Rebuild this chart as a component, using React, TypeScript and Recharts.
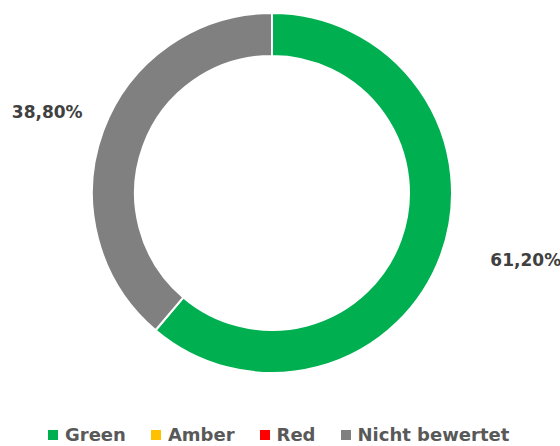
import React from 'react';
import { PieChart, Pie, Cell, Legend } from 'recharts';

const categories = ['Green', 'Amber', 'Red', 'Nicht bewertet'];
const shares = [61.2, 0, 0, 38.8];
const colors = ['#00B050', '#FFC000', '#FF0000', '#808080'];

const data = categories.map((name, i) => ({ name, value: shares[i], color: colors[i] }));

const RADIAN = Math.PI / 180;
const FONT = '"DejaVu Sans", "Noto Sans", sans-serif';

// Excel-style outside labels, nudged away from the ring
const renderLabel = ({ cx, cy, midAngle, outerRadius, value }: any) => {
  if (!value) return null;
  const r = outerRadius + 10;
  const x = cx + r * Math.cos(-midAngle * RADIAN);
  const y = cy + r * Math.sin(-midAngle * RADIAN);
  const right = x > cx;
  return (
    <text
      x={right ? x + 40 : x - 11}
      y={right ? y + 2 : y - 16}
      textAnchor={right ? 'start' : 'end'}
      dominantBaseline="central"
      fill="#404040"
      fontSize={17}
      fontWeight={700}
      fontFamily={FONT}
    >
      {value.toFixed(2).replace('.', ',') + '%'}
    </text>
  );
};

const LegendContent = () => (
  <div style={{ display: 'flex', alignItems: 'center', gap: 25, paddingLeft: 48, fontFamily: FONT, fontSize: 18, fontWeight: 700, color: '#595959', lineHeight: '21px' }}>
    {data.map((d) => (
      <div key={d.name} style={{ display: 'flex', alignItems: 'center', gap: 7 }}>
        <div style={{ width: 10, height: 10, background: d.color }}></div>
        <span>{d.name}</span>
      </div>
    ))}
  </div>
);

export default function App() {
  return (
    <div style={{ position: 'absolute', left: 0, top: 0, width: 560, height: 446, background: '#fff' }}>
      <PieChart width={560} height={446} margin={{ top: 0, right: 0, bottom: 0, left: 0 }}>
        <Pie
          data={data}
          dataKey="value"
          cx={272}
          cy={193}
          innerRadius={137}
          outerRadius={180}
          startAngle={90}
          endAngle={-270}
          stroke="#ffffff"
          strokeWidth={2}
          label={renderLabel}
          labelLine={false}
          isAnimationActive={false}
        >
          {data.map((d, i) => (
            <Cell key={`cell-${i}`} fill={d.color} />
          ))}
        </Pie>
        <Legend
          content={<LegendContent />}
          verticalAlign="bottom"
          wrapperStyle={{ left: 0, top: 424, width: 560 }}
        />
      </PieChart>
    </div>
  );
}
